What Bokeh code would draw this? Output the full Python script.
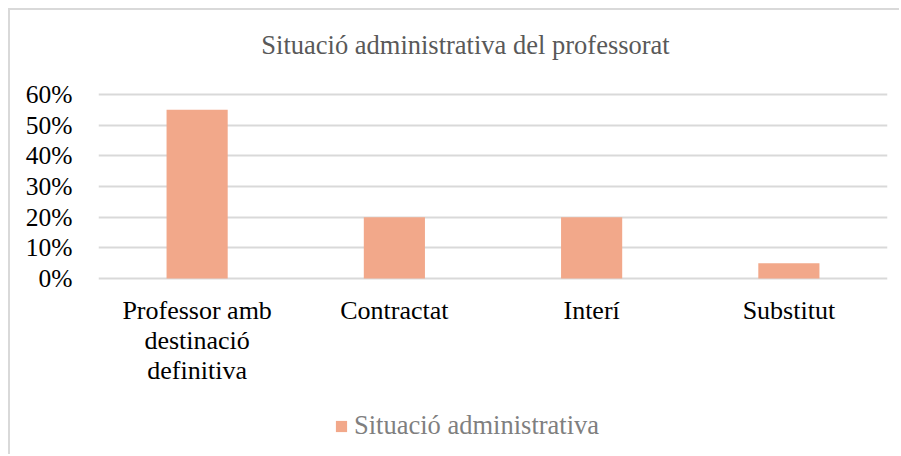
from bokeh.plotting import figure
from bokeh.models import (ColumnDataSource, FactorRange, Range1d, FixedTicker,
                          NumeralTickFormatter, Legend, LegendItem, Label)
from bokeh.core.properties import value
from bokeh.embed import file_html
from bokeh.resources import INLINE

title_text = "Situació administrativa del professorat"
series_name = "Situació administrativa"
categories = ["Professor amb destinació definitiva", "Contractat", "Interí", "Substitut"]
category_labels = ["Professor amb\ndestinació\ndefinitiva", "Contractat", "Interí", "Substitut"]
values = [0.55, 0.20, 0.20, 0.05]
y_ticks = [0.0, 0.1, 0.2, 0.3, 0.4, 0.5, 0.6]

FONT = "Liberation Serif"
BAR = "#F2A88A"

# layout (pixels)
W, H = 891, 446
LEFT, RIGHT = 88, 14
ZERO_Y = 268          # pixel row of 0% from figure top
TOP_Y = 84            # pixel row of 60% from figure top
px_per_unit = (ZERO_Y - TOP_Y) / y_ticks[-1]
y_start = -(H - ZERO_Y) / px_per_unit
y_end = y_ticks[-1] + TOP_Y / px_per_unit

source = ColumnDataSource(data=dict(cat=categories, val=values))

p = figure(width=W, height=H, output_backend="svg", toolbar_location=None, title=None,
           x_range=FactorRange(*categories, range_padding=0),
           y_range=Range1d(y_start, y_end),
           min_border_left=LEFT, min_border_right=RIGHT, min_border_top=0, min_border_bottom=0,
           styles={"margin-left": "8px", "margin-top": "8px",
                   "border-left": "2px solid #d9d9d9", "border-top": "2px solid #d9d9d9"})
p.outline_line_color = None
p.background_fill_color = "white"
p.border_fill_color = "white"

r = p.vbar(x="cat", top="val", width=0.31, source=source, fill_color=BAR, line_color=None)

p.xgrid.grid_line_color = None
p.ygrid.grid_line_color = "#d9d9d9"
p.ygrid.grid_line_width = 2
p.ygrid.ticker = FixedTicker(ticks=y_ticks)

p.yaxis.ticker = FixedTicker(ticks=y_ticks)
p.yaxis.formatter = NumeralTickFormatter(format="0%")
p.yaxis.axis_line_color = None
p.yaxis.major_tick_line_color = None
p.yaxis.minor_tick_line_color = None
p.yaxis.major_tick_out = 0
p.yaxis.major_tick_in = 0
p.yaxis.major_label_standoff = 26
p.yaxis.major_label_text_font = FONT
p.yaxis.major_label_text_font_size = "25.5px"
p.yaxis.major_label_text_color = "#000000"

p.xaxis.visible = False

# category labels, one text per line, placed under each category
lab_x, lab_y, lab_txt, lab_off = [], [], [], []
for cat, lab in zip(categories, category_labels):
    for i, line in enumerate(lab.split("\n")):
        lab_x.append(cat)
        lab_y.append(0.0)
        lab_txt.append(line)
        lab_off.append(32 + i * 30)
lab_src = ColumnDataSource(data=dict(x=lab_x, y=lab_y, t=lab_txt, off=lab_off))
p.text(x="x", y="y", text="t", y_offset="off", source=lab_src,
       text_font=value(FONT), text_font_size="26px", text_color="#000000",
       text_align="center", text_baseline="middle")

title = Label(x=367, y=H - 34, x_units="screen", y_units="screen", text=title_text,
              text_font=FONT, text_font_size="26.5px", text_color="#595959",
              text_align="center", text_baseline="alphabetic")
p.add_layout(title)

legend = Legend(items=[LegendItem(label=series_name, renderers=[r])],
                location=(236, 15), orientation="horizontal",
                glyph_width=14, glyph_height=14, label_standoff=6,
                label_text_font=FONT, label_text_font_size="26.5px",
                label_text_color="#7f7f7f", padding=0, margin=0, spacing=0,
                border_line_color=None, background_fill_alpha=0)
p.add_layout(legend, "center")

open("out.html", "w").write(file_html(p, INLINE))
